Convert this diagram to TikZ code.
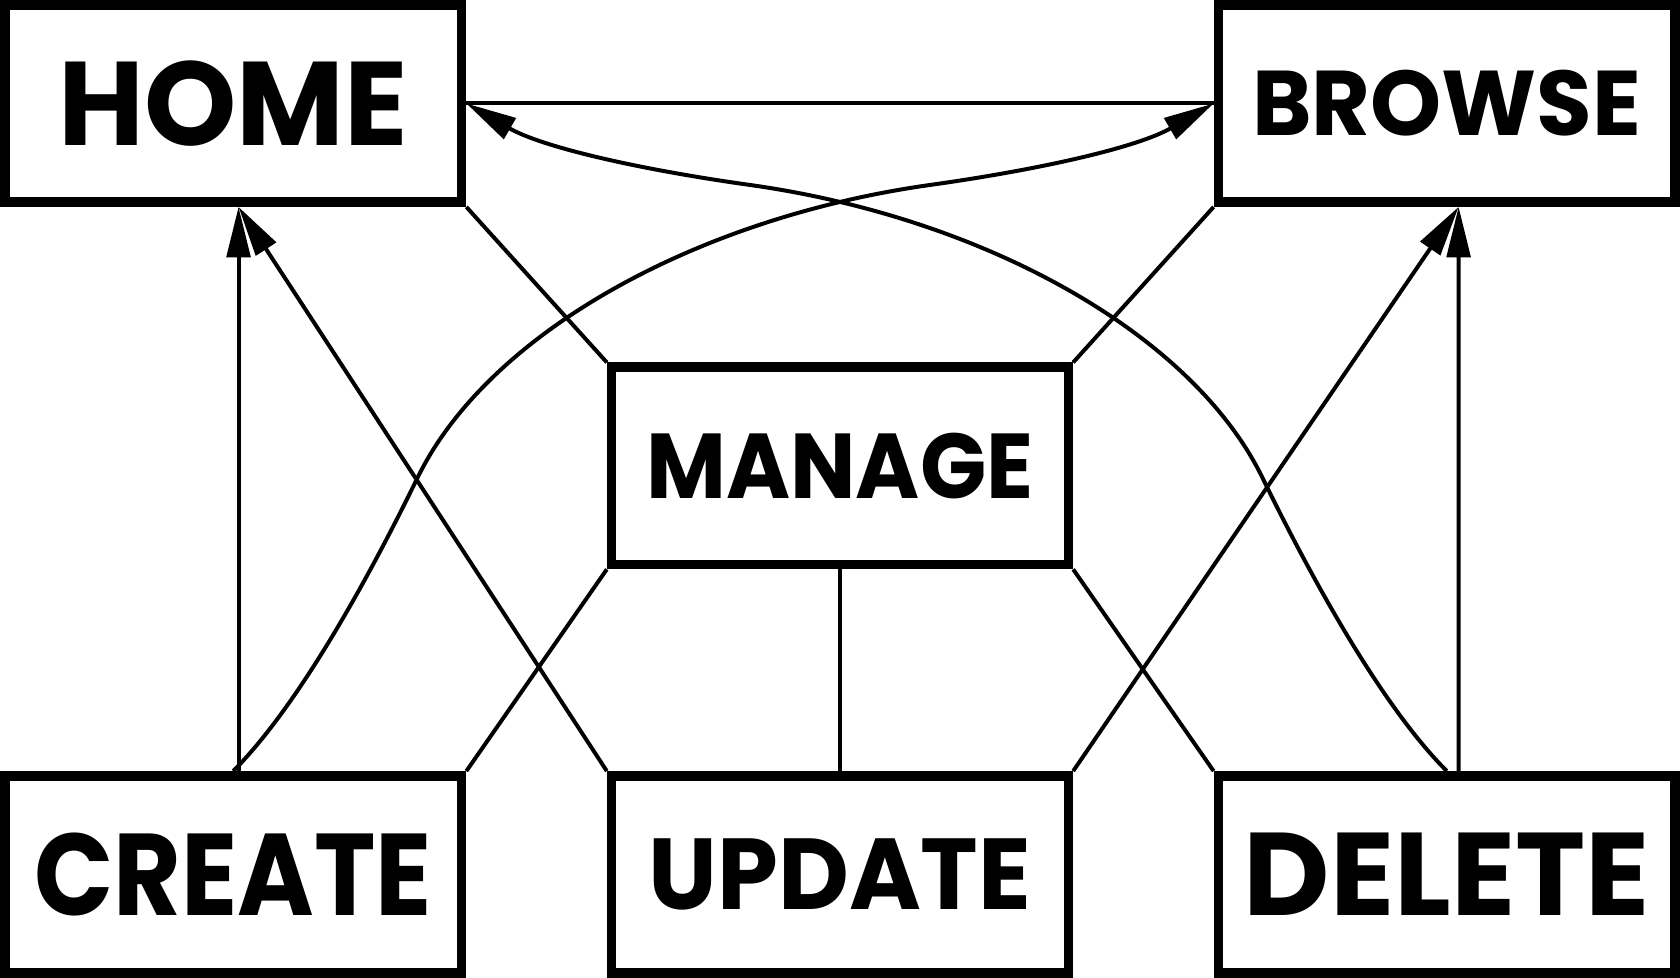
\documentclass[tikz,border=0pt]{standalone}
\usepackage{fontspec}
\setmainfont{Poppins}
\usepackage{graphicx}
\usepackage{tikz}
\usetikzlibrary{positioning, arrows.meta}

\newcommand{\boxtext}[3]{\resizebox{#1}{#2}{\bfseries #3}}

\begin{document}
\begin{tikzpicture}[x=1mm, y=1mm, >={Triangle[length=4.7mm, width=2.2mm]},
    page/.style={draw, rectangle, line width=0.9mm, inner sep=0pt, minimum width=42.6mm, minimum height=18.4mm},
    link/.style={line width=0.37mm}]

        \useasboundingbox (-21.75,9.65) rectangle (134.95,-81.57);

        % page boxes
        \node[page] (home) {\boxtext{32.6mm}{7.9mm}{HOME}};
        \node[page, right=69.7mm of home] (browse) {\boxtext{36.3mm}{6.1mm}{BROWSE}};
        \node[page, below right=14.5mm and 13.1mm of home] (manage) {\boxtext{36.1mm}{6.1mm}{MANAGE}};
        \node[page, below=18.82mm of manage] (update) {\boxtext{35.7mm}{6.6mm}{UPDATE}};
        \node[page, left=13.1mm of update] (create) {\boxtext{37.1mm}{7.7mm}{CREATE}};
        \node[page, right=13.1mm of update] (delete) {\boxtext{37.9mm}{7.7mm}{DELETE}};

        % plain links
        \draw[link] (home.east) -- (browse.west);
        \draw[link] (home.south east) -- (manage.north west);
        \draw[link] (browse.south west) -- (manage.north east);
        \draw[link] (manage.south west) -- (create.north east);
        \draw[link] (manage.south east) -- (delete.north west);
        \draw[link] (manage.south) -- (update.north);

        % arrows up to home and browse
        \draw[link, ->] ([xshift=0.5mm]create.north) -- ([xshift=0.5mm]home.south);
        \draw[link, ->] (update.north west) -- ([xshift=0.5mm]home.south);
        \draw[link, ->] ([xshift=1.1mm]delete.north) -- ([xshift=1.1mm]browse.south);
        \draw[link, ->] (update.north east) -- ([xshift=1.1mm]browse.south);

        % curved arrows
        \coordinate (createTurn) at (17.2,-34.9);
        \coordinate (createFlat) at (65.0,-7.6);
        \coordinate (deleteTurn) at (96.0,-34.9);
        \coordinate (deleteFlat) at (48.2,-7.6);
        \draw[link, ->] (create.north) .. controls +(45:8) and +(244:12) .. (createTurn)
            .. controls +(64:15) and +(188:22) .. (createFlat)
            .. controls +(8:11) and +(210:8) .. (browse.west);
        \draw[link, ->] (delete.north) .. controls +(135:8) and +(296:12) .. (deleteTurn)
            .. controls +(116:15) and +(-8:22) .. (deleteFlat)
            .. controls +(172:11) and +(-30:8) .. (home.east);

    \end{tikzpicture}
\end{document}
